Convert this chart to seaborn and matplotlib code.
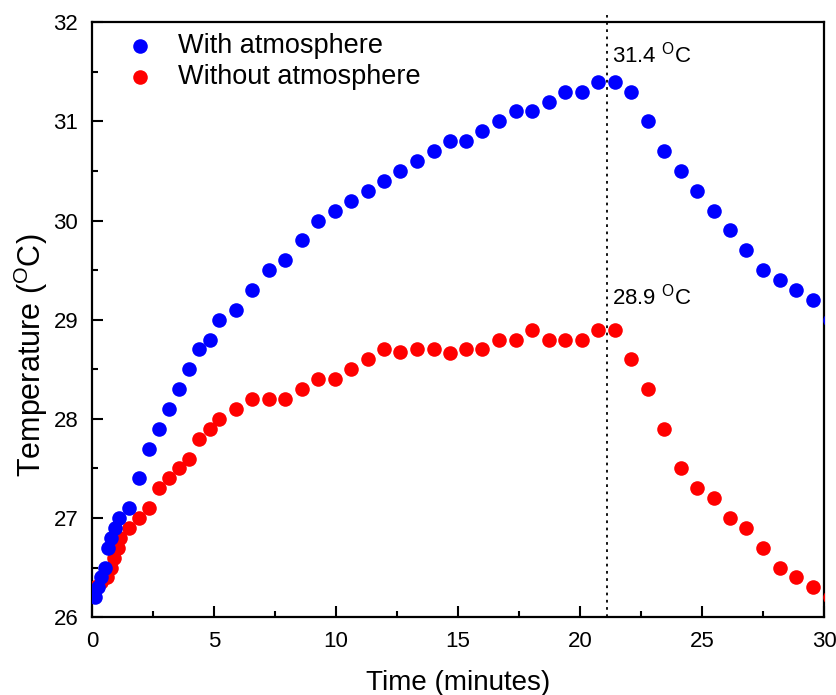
import numpy as np
import pandas as pd
import matplotlib
matplotlib.use("Agg")
import matplotlib.pyplot as plt
from matplotlib.ticker import MultipleLocator
import seaborn as sns

# ---- data ----
time_with = [0.12, 0.25, 0.37, 0.53, 0.66, 0.78, 0.94, 1.11, 1.52, 1.93, 2.34, 2.75,
             3.16, 3.57, 3.98, 4.39, 4.84, 5.2, 5.9, 6.56, 7.25, 7.9, 8.6, 9.26,
             9.96, 10.62, 11.3, 11.97, 12.62, 13.3, 14.0, 14.67, 15.33, 16.0, 16.68,
             17.38, 18.03, 18.73, 19.39, 20.08, 20.74, 21.43, 22.1, 22.8, 23.45,
             24.15, 24.8, 25.5, 26.15, 26.8, 27.5, 28.2, 28.85, 29.55, 30.23]
temp_with = [26.2, 26.3, 26.4, 26.5, 26.7, 26.8, 26.9, 27.0, 27.1, 27.4, 27.7, 27.9,
             28.1, 28.3, 28.5, 28.7, 28.8, 29.0, 29.1, 29.3, 29.5, 29.6, 29.8, 30.0,
             30.1, 30.2, 30.3, 30.4, 30.5, 30.6, 30.7, 30.8, 30.8, 30.9, 31.0,
             31.1, 31.1, 31.2, 31.3, 31.3, 31.4, 31.4, 31.3, 31.0, 30.7,
             30.5, 30.3, 30.1, 29.9, 29.7, 29.5, 29.4, 29.3, 29.2, 29.0]

time_without = [0.12, 0.35, 0.6, 0.77, 0.9, 1.05, 1.15, 1.52, 1.93, 2.34, 2.75,
                3.16, 3.57, 3.98, 4.39, 4.84, 5.2, 5.9, 6.56, 7.25, 7.9, 8.6, 9.26,
                9.96, 10.62, 11.3, 11.97, 12.62, 13.3, 14.0, 14.67, 15.33, 16.0, 16.68,
                17.38, 18.03, 18.73, 19.39, 20.08, 20.74, 21.43, 22.1, 22.8, 23.45,
                24.15, 24.8, 25.5, 26.15, 26.8, 27.5, 28.2, 28.85, 29.55, 30.23]
temp_without = [26.3, 26.35, 26.4, 26.5, 26.6, 26.7, 26.8, 26.9, 27.0, 27.1, 27.3,
                27.4, 27.5, 27.6, 27.8, 27.9, 28.0, 28.1, 28.2, 28.2, 28.2, 28.3, 28.4,
                28.4, 28.5, 28.6, 28.7, 28.67, 28.7, 28.7, 28.66, 28.7, 28.7, 28.8,
                28.8, 28.9, 28.8, 28.8, 28.8, 28.9, 28.9, 28.6, 28.3, 27.9,
                27.5, 27.3, 27.2, 27.0, 26.9, 26.7, 26.5, 26.4, 26.3, 26.2]

series_names = ["With atmosphere", "Without atmosphere"]
series_colors = ["#0000ff", "#ff0000"]
peak_time = 21.1
peak_labels = [(31.4, 31.67), (28.9, 29.23)]  # (value, label y)
x_ticks = [0, 5, 10, 15, 20, 25, 30]
y_ticks = [26, 27, 28, 29, 30, 31, 32]

df = pd.concat([
    pd.DataFrame({"time": time_with, "temp": temp_with, "series": series_names[0]}),
    pd.DataFrame({"time": time_without, "temp": temp_without, "series": series_names[1]}),
], ignore_index=True)

sns.set_style("ticks")
plt.rcParams["font.family"] = ["Liberation Sans", "DejaVu Sans"]
plt.rcParams["mathtext.fontset"] = "custom"
plt.rcParams["mathtext.rm"] = "Liberation Sans"
plt.rcParams["text.color"] = "black"
plt.rcParams["axes.labelcolor"] = "black"
plt.rcParams["xtick.color"] = "black"
plt.rcParams["ytick.color"] = "black"

fig = plt.figure(figsize=(8.37, 6.95), dpi=100)
ax = fig.add_axes([0.110, 0.112, 0.8745, 0.856])

# red drawn first (behind), blue on top
sns.scatterplot(data=df[df.series == series_names[1]], x="time", y="temp",
                color=series_colors[1], s=110, linewidth=0, ax=ax,
                label=series_names[1], zorder=3)
sns.scatterplot(data=df[df.series == series_names[0]], x="time", y="temp",
                color=series_colors[0], s=110, linewidth=0, ax=ax,
                label=series_names[0], zorder=4)

ax.plot([peak_time, peak_time], [26, 32.07], color="black", linestyle=(0, (1.5, 2.5)),
        linewidth=1.3, clip_on=False, zorder=2)

for val, ly in peak_labels:
    ax.text(peak_time + 0.22, ly, f"{val} " + r"$^{\rm O}$C", fontsize=16,
            ha="left", va="center", color="black")

ax.set_xlim(0, 30)
ax.set_ylim(26, 32)
ax.set_xticks(x_ticks)
ax.set_yticks(y_ticks)
ax.xaxis.set_minor_locator(MultipleLocator(2.5))
ax.yaxis.set_minor_locator(MultipleLocator(0.5))
ax.tick_params(which="major", direction="in", length=8, width=1.5, labelsize=16,
               top=False, right=False, pad=10)
ax.tick_params(which="minor", direction="in", length=4.5, width=1.5,
               top=False, right=False)
for sp in ax.spines.values():
    sp.set_visible(True)
    sp.set_linewidth(1.6)
    sp.set_color("black")

ax.set_xlabel("Time (minutes)", fontsize=20, labelpad=13)
ax.set_ylabel(r"Temperature ($^{\rm O}$C)", fontsize=22)
ax.yaxis.set_label_coords(-0.058, 0.44)

handles, labels = ax.get_legend_handles_labels()
order = [labels.index(n) for n in series_names]
ax.legend([handles[i] for i in order], [labels[i] for i in order],
          loc="upper left", bbox_to_anchor=(0.0245, 1.0), frameon=False,
          fontsize=19.5, handletextpad=0.7, labelspacing=0.2, markerscale=1.0,
          borderaxespad=0.0, handlelength=1.4)

fig.savefig("out.png", dpi=100)
